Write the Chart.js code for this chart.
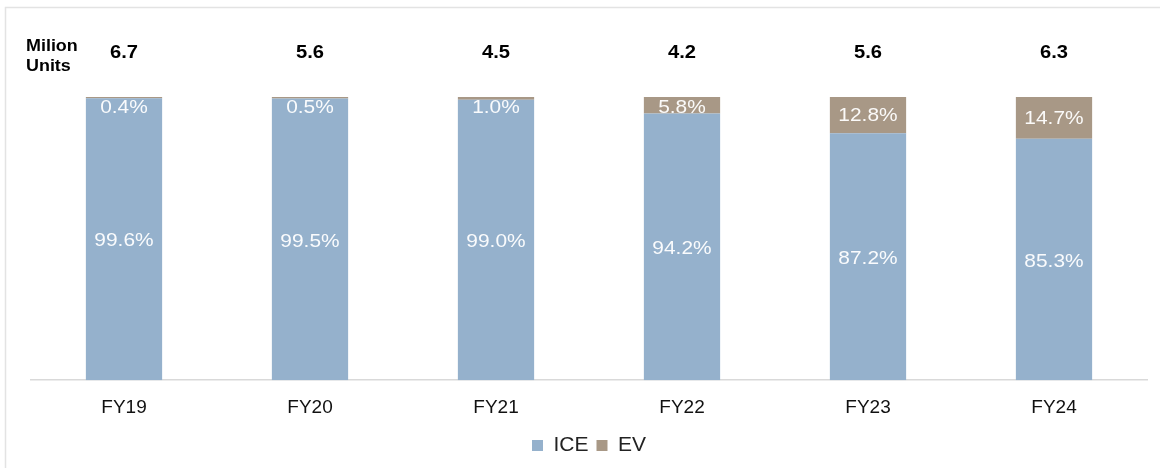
<!DOCTYPE html>
<html>
<head>
<meta charset="utf-8">
<script src="https://cdn.jsdelivr.net/npm/chart.js@4.4.0/dist/chart.umd.min.js"></script>
<style>
  html, body { margin: 0; padding: 0; background: #fff; }
  #wrap { width: 1160px; height: 468px; position: relative; }
</style>
</head>
<body>
<div id="wrap"><canvas id="myChart"></canvas></div>
<script>
// values
const years = ["FY19", "FY20", "FY21", "FY22", "FY23", "FY24"];
const totals = [6.7, 5.6, 4.5, 4.2, 5.6, 6.3]; // million units
const ice = [99.6, 99.5, 99.0, 94.2, 87.2, 85.3];
const ev = [0.4, 0.5, 1.0, 5.8, 12.8, 14.7];

const FONT = "'Liberation Sans', Arial, sans-serif";

// text in the source looks a bit wide, so stretch it a little
function wideText(c, txt, x, y, sx) {
    c.save();
    c.translate(x, y);
    c.scale(sx, 1);
    c.fillText(txt, 0, 0);
    c.restore();
}

// frame, unit label, totals and the % labels inside the bars
const extras = {
    id: 'extras',
    beforeDraw(chart) {
        const c = chart.ctx;
        c.save();
        c.strokeStyle = '#e3e3e3';
        c.lineWidth = 1.5;
        c.strokeRect(5.5, 7.5, 1200, 500);
        c.restore();
    },
    afterDatasetsDraw(chart) {
        const c = chart.ctx;
        c.save();
        c.fillStyle = '#000';
        c.font = 'bold 16px ' + FONT;
        c.textAlign = 'left';
        c.textBaseline = 'middle';
        wideText(c, 'Milion', 26, 47, 1.12);
        wideText(c, 'Units', 26, 67, 1.12);

        c.font = 'bold 18px ' + FONT;
        c.textAlign = 'center';
        const metaIce = chart.getDatasetMeta(0);
        const metaEv = chart.getDatasetMeta(1);
        totals.forEach((t, i) => {
            wideText(c, t.toFixed(1), metaIce.data[i].x, 53, 1.12);
        });

        c.font = '19px ' + FONT;
        c.fillStyle = 'rgba(255,255,255,0.95)';
        metaIce.data.forEach((bar, i) => {
            const mid = (bar.y + bar.base) / 2;
            wideText(c, ice[i].toFixed(1) + '%', bar.x, mid + 2, 1.1);
        });
        metaEv.data.forEach((bar, i) => {
            const top = Math.min(bar.y, bar.base);
            const mid = (bar.y + bar.base) / 2;
            wideText(c, ev[i].toFixed(1) + '%', bar.x, Math.max(mid + 1, top + 10.5), 1.1);
        });
        c.restore();
    }
};

const ctx = document.getElementById('myChart');
new Chart(ctx, {
    type: 'bar',
    data: {
        labels: years,
        datasets: [
            {
                label: 'ICE',
                data: ice,
                backgroundColor: '#95b1cc',
                barPercentage: 0.82,
                categoryPercentage: 0.5
            },
            {
                label: 'EV',
                data: ev,
                backgroundColor: '#a89886',
                barPercentage: 0.82,
                categoryPercentage: 0.5
            }
        ]
    },
    options: {
        responsive: true,
        maintainAspectRatio: false,
        animation: false,
        layout: {
            padding: { top: 97, left: 31, right: 13, bottom: 2 }
        },
        scales: {
            x: {
                stacked: true,
                grid: { display: false },
                border: { color: '#d9d9d9', width: 1.5 },
                ticks: {
                    color: '#111',
                    font: { family: FONT, size: 19 },
                    padding: 8
                }
            },
            y: {
                stacked: true,
                display: false,
                min: 0,
                max: 100
            }
        },
        plugins: {
            legend: {
                position: 'bottom',
                labels: {
                    boxWidth: 11,
                    boxHeight: 11,
                    padding: 8,
                    color: '#222',
                    font: { family: FONT, size: 21 }
                }
            },
            tooltip: { enabled: false }
        }
    },
    plugins: [extras]
});
</script>
</body>
</html>
